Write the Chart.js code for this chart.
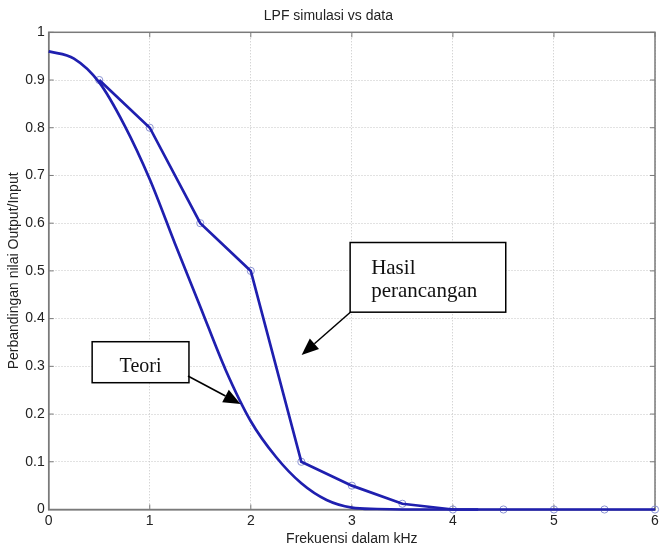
<!DOCTYPE html>
<html>
<head>
<meta charset="utf-8">
<script src="https://cdn.jsdelivr.net/npm/chart.js@4/dist/chart.umd.min.js"></script>
<style>
  html, body { margin: 0; padding: 0; background: #fff; overflow: hidden; }
  #wrap { width: 660px; height: 548px; }
</style>
</head>
<body>
<div id="wrap"><canvas id="lpf" width="660" height="548"></canvas></div>
<script>
// ===== data =====
const teoriFreq = [0, 0.25, 0.5, 0.75, 1, 1.25, 1.5, 1.75, 2, 2.25, 2.5, 2.75, 3, 3.25, 3.5, 3.75, 4, 4.25];
const teoriVal  = [0.96, 0.945, 0.895, 0.805, 0.692, 0.557, 0.425, 0.293, 0.185, 0.11, 0.055, 0.02, 0.004, 0.001, 0, 0, 0, 0];

const hasilFreq = [0.5, 1, 1.5, 2, 2.5, 3, 3.5, 4, 4.5, 5, 5.5, 6];
const hasilVal  = [0.9, 0.8, 0.6, 0.5, 0.1, 0.05, 0.012, 0, 0, 0, 0, 0];

const xTicks = [0, 1, 2, 3, 4, 5, 6];
const yTicks = [0, 0.1, 0.2, 0.3, 0.4, 0.5, 0.6, 0.7, 0.8, 0.9, 1];

// ===== styles =====
const lineBlue = '#1f1faf';
const markBlue = '#8c94d4';
const axisGrey = '#7a7a7a';
const textCol  = '#222';
const sans  = '"Liberation Sans", Arial, Helvetica, sans-serif';
const serif = '"Liberation Serif", "Times New Roman", serif';

// callouts, anchored in data units
const callouts = [
  { box: [2.983, 0.5595, 4.523, 0.4135], lines: ['Hasil', 'perancangan'], size: 21, dx: 21, dy: [31, 54], center: false,
    arrow: [2.988, 0.4139, 2.503, 0.3238] },
  { box: [0.430, 0.3516, 1.388, 0.2657], lines: ['Teori'], size: 20, dy: [30], center: true,
    arrow: [1.378, 0.2798, 1.898, 0.2211] }
];

const pts = (xs, ys) => xs.map((x, i) => ({ x: x, y: ys[i] }));

// MATLAB-ish box: top/right edges and inward ticks
const boxPlugin = {
  id: 'box',
  beforeDatasetsDraw(chart) {
    const { ctx, chartArea: a, scales: { x, y } } = chart;
    ctx.save();
    ctx.strokeStyle = axisGrey;
    ctx.lineWidth = 1.5;
    ctx.strokeRect(a.left, a.top, a.right - a.left, a.bottom - a.top);
    ctx.lineWidth = 1;
    ctx.beginPath();
    xTicks.forEach(v => {
      const px = x.getPixelForValue(v);
      ctx.moveTo(px, a.bottom); ctx.lineTo(px, a.bottom - 5);
      ctx.moveTo(px, a.top);    ctx.lineTo(px, a.top + 5);
    });
    yTicks.forEach(v => {
      const py = y.getPixelForValue(v);
      ctx.moveTo(a.left, py);  ctx.lineTo(a.left + 5, py);
      ctx.moveTo(a.right, py); ctx.lineTo(a.right - 5, py);
    });
    ctx.stroke();
    ctx.restore();
  }
};

function arrow(ctx, x1, y1, x2, y2) {
  const ang = Math.atan2(y2 - y1, x2 - x1);
  const len = 17, half = 7;
  const bx = x2 - len * Math.cos(ang), by = y2 - len * Math.sin(ang);
  ctx.beginPath();
  ctx.moveTo(x1, y1); ctx.lineTo(bx, by);
  ctx.stroke();
  ctx.beginPath();
  ctx.moveTo(x2, y2);
  ctx.lineTo(bx + half * Math.sin(ang), by - half * Math.cos(ang));
  ctx.lineTo(bx - half * Math.sin(ang), by + half * Math.cos(ang));
  ctx.closePath();
  ctx.fill();
}

const calloutPlugin = {
  id: 'callouts',
  afterDraw(chart) {
    const { ctx, scales: { x, y } } = chart;
    ctx.save();
    callouts.forEach(c => {
      const l = x.getPixelForValue(c.box[0]), t = y.getPixelForValue(c.box[1]);
      const r = x.getPixelForValue(c.box[2]), b = y.getPixelForValue(c.box[3]);
      ctx.fillStyle = '#fff';
      ctx.fillRect(l, t, r - l, b - t);
      ctx.strokeStyle = '#000';
      ctx.lineWidth = 1.5;
      ctx.strokeRect(l, t, r - l, b - t);
      ctx.fillStyle = '#111';
      ctx.font = c.size + 'px ' + serif;
      ctx.textBaseline = 'alphabetic';
      ctx.textAlign = c.center ? 'center' : 'left';
      c.lines.forEach((s, i) => {
        ctx.fillText(s, c.center ? (l + r) / 2 : l + c.dx, t + c.dy[i]);
      });
      ctx.fillStyle = '#000';
      ctx.lineWidth = 1.5;
      arrow(ctx, x.getPixelForValue(c.arrow[0]), y.getPixelForValue(c.arrow[1]),
                 x.getPixelForValue(c.arrow[2]), y.getPixelForValue(c.arrow[3]));
    });
    ctx.restore();
  }
};

new Chart(document.getElementById('lpf'), {
  type: 'scatter',
  data: {
    datasets: [
      {
        label: 'Teori',
        data: pts(teoriFreq, teoriVal),
        showLine: true,
        borderColor: lineBlue,
        borderWidth: 2.7,
        pointRadius: 0,
        cubicInterpolationMode: 'monotone',
        clip: 8,
        order: 1
      },
      {
        label: 'Hasil perancangan',
        data: pts(hasilFreq, hasilVal),
        showLine: true,
        borderColor: lineBlue,
        borderWidth: 2.7,
        pointRadius: 0,
        tension: 0,
        clip: 8,
        order: 1
      },
      {
        label: 'data',
        data: pts(hasilFreq, hasilVal),
        showLine: false,
        pointStyle: 'circle',
        pointRadius: 3.6,
        pointBorderWidth: 1,
        pointBorderColor: markBlue,
        pointBackgroundColor: 'rgba(0,0,0,0)',
        clip: 8,
        order: 3
      }
    ]
  },
  options: {
    responsive: false,
    animation: false,
    layout: { padding: { left: 0, right: 3.3, top: 0, bottom: 0 } },
    plugins: {
      legend: { display: false },
      tooltip: { enabled: false },
      title: {
        display: true,
        text: 'LPF simulasi vs data',
        color: textCol,
        font: { family: sans, size: 14, weight: 'normal' },
        padding: { top: 8, bottom: 7.5 }
      }
    },
    scales: {
      x: {
        type: 'linear',
        min: 0, max: 6,
        afterBuildTicks: s => { s.ticks = xTicks.map(v => ({ value: v })); },
        afterFit: s => { s.height = 38.5; s.paddingLeft = 0; s.paddingRight = 0; },
        ticks: { color: textCol, font: { family: sans, size: 14 }, padding: 3, maxRotation: 0 },
        grid: { color: '#c4c4c4', lineWidth: 1, drawTicks: false },
        border: { display: true, color: axisGrey, width: 1.5, dash: [1, 2] },
        title: {
          display: true, text: 'Frekuensi dalam kHz', color: textCol,
          font: { family: sans, size: 14 }, padding: { top: 0, bottom: 0 }
        }
      },
      y: {
        type: 'linear',
        min: 0, max: 1,
        afterBuildTicks: s => { s.ticks = yTicks.map(v => ({ value: v })); },
        afterFit: s => { s.width = 48.7; s.paddingTop = 0; s.paddingBottom = 0; },
        ticks: {
          color: textCol, font: { family: sans, size: 14 }, padding: 4,
          callback: v => String(+v.toFixed(1))
        },
        grid: { color: '#c4c4c4', lineWidth: 1, drawTicks: false },
        border: { display: true, color: axisGrey, width: 1.5, dash: [1, 2] },
        title: {
          display: true, text: 'Perbandingan nilai Output/Input', color: textCol,
          font: { family: sans, size: 14 }, padding: { top: 6, bottom: 0 }
        }
      }
    }
  },
  plugins: [boxPlugin, calloutPlugin]
});
</script>
</body>
</html>
